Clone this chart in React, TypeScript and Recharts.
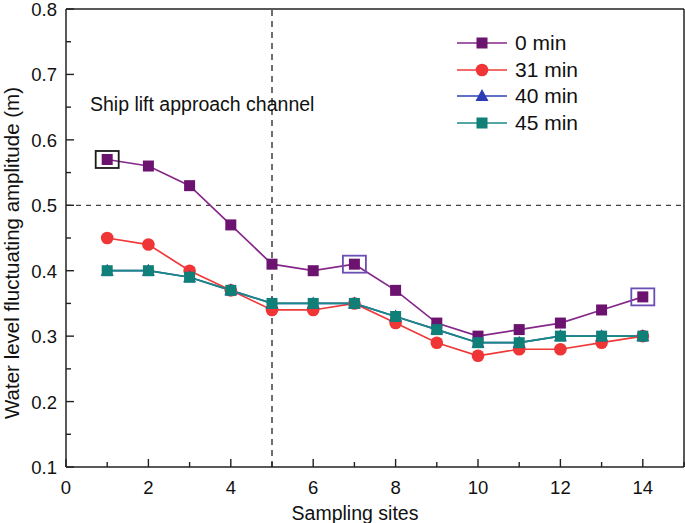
import * as React from "react";
import { LineChart, Line, XAxis, YAxis, ReferenceLine, ReferenceDot } from "recharts";

// sampling sites and amplitudes (m)
const sites = [1, 2, 3, 4, 5, 6, 7, 8, 9, 10, 11, 12, 13, 14];
const amp0 = [0.57, 0.56, 0.53, 0.47, 0.41, 0.4, 0.41, 0.37, 0.32, 0.3, 0.31, 0.32, 0.34, 0.36];
const amp31 = [0.45, 0.44, 0.4, 0.37, 0.34, 0.34, 0.35, 0.32, 0.29, 0.27, 0.28, 0.28, 0.29, 0.3];
const amp40 = [0.4, 0.4, 0.39, 0.37, 0.35, 0.35, 0.35, 0.33, 0.31, 0.29, 0.29, 0.3, 0.3, 0.3];
const amp45 = [0.4, 0.4, 0.39, 0.37, 0.35, 0.35, 0.35, 0.33, 0.31, 0.29, 0.29, 0.3, 0.3, 0.3];

const xTicks = [0, 1, 2, 3, 4, 5, 6, 7, 8, 9, 10, 11, 12, 13, 14, 15];
const yTicks = [0.1, 0.15, 0.2, 0.25, 0.3, 0.35, 0.4, 0.45, 0.5, 0.55, 0.6, 0.65, 0.7, 0.75, 0.8];

// highlighted points of the 0 min series
const boxSites = [1, 7, 14];
const boxColors = ["#1a1a1a", "#6a4db5", "#6a4db5"];

const FONT = '"Liberation Sans", Arial, sans-serif';
const AXIS = "#222";

type Shape = "square" | "circle" | "triangle";

const SERIES: Array<{ key: string; name: string; line: string; mark: string; shape: Shape }> = [
  { key: "t0", name: "0 min", line: "#85288a", mark: "#6c136f", shape: "square" },
  { key: "t31", name: "31 min", line: "#f03a3a", mark: "#ef3535", shape: "circle" },
  { key: "t40", name: "40 min", line: "#2e3fb3", mark: "#2a3db5", shape: "triangle" },
  { key: "t45", name: "45 min", line: "#178a84", mark: "#0f7f78", shape: "square" },
];

const data = sites.map((s, i) => ({
  site: s,
  t0: amp0[i],
  t31: amp31[i],
  t40: amp40[i],
  t45: amp45[i],
}));

function Marker({ cx, cy, color, shape }: { cx: number; cy: number; color: string; shape: Shape }) {
  if (shape === "circle") return <circle cx={cx} cy={cy} r={6.3} fill={color} />;
  if (shape === "triangle")
    return <path d={`M${cx},${cy - 7} L${cx - 6.5},${cy + 5} L${cx + 6.5},${cy + 5} Z`} fill={color} />;
  return <rect x={cx - 5.5} y={cy - 5.5} width={11} height={11} fill={color} />;
}

function XTick(p: any) {
  const v = p.payload.value;
  const major = v % 2 === 0;
  return (
    <g>
      <line x1={p.x} x2={p.x} y1={p.y} y2={p.y - (major ? 8 : 5)} stroke={AXIS} strokeWidth={1.4} />
      {major && (
        <text x={p.x} y={p.y + 27} textAnchor="middle" fontSize={18.5} fill="#111" fontFamily={FONT}>
          {v}
        </text>
      )}
    </g>
  );
}

function YTick(p: any) {
  const v = p.payload.value;
  const major = Math.round(v * 100) % 10 === 0;
  return (
    <g>
      <line x1={p.x} x2={p.x + (major ? 8 : 5)} y1={p.y} y2={p.y} stroke={AXIS} strokeWidth={1.4} />
      {major && (
        <text x={p.x - 9} y={p.y + 7} textAnchor="end" fontSize={18.5} fill="#111" fontFamily={FONT}>
          {v.toFixed(1)}
        </text>
      )}
    </g>
  );
}

function LegendBox() {
  return (
    <div style={{ position: "absolute", left: 455, top: 30, fontFamily: FONT, fontSize: 21, color: "#111" }}>
      {SERIES.map((s) => (
        <div key={s.key} style={{ display: "flex", alignItems: "center", height: 26.5 }}>
          <svg width={54} height={16} style={{ marginRight: 6 }}>
            <line x1={2} x2={52} y1={8} y2={8} stroke={s.line} strokeWidth={1.6} />
            <Marker cx={27} cy={8} color={s.mark} shape={s.shape} />
          </svg>
          <span>{s.name}</span>
        </div>
      ))}
    </div>
  );
}

export default function App() {
  return (
    <div style={{ position: "absolute", left: 0, top: 0, width: 685, height: 523, background: "#fff" }}>
      <LineChart width={685} height={523} data={data} margin={{ top: 9, right: 1, left: 0, bottom: 0 }}>
        <XAxis
          dataKey="site"
          type="number"
          domain={[0, 15]}
          ticks={xTicks}
          interval={0}
          height={56}
          tickSize={0}
          tickMargin={0}
          tickLine={false}
          axisLine={{ stroke: AXIS, strokeWidth: 1.5 }}
          tick={<XTick />}
        />
        <YAxis
          type="number"
          domain={[0.1, 0.8]}
          ticks={yTicks}
          interval={0}
          width={66}
          tickSize={0}
          tickMargin={0}
          tickLine={false}
          axisLine={{ stroke: AXIS, strokeWidth: 1.5 }}
          tick={<YTick />}
        />
        {/* frame */}
        <ReferenceLine y={0.8} stroke={AXIS} strokeWidth={1.5} />
        <ReferenceLine x={15} stroke={AXIS} strokeWidth={1.5} />
        {/* dashed guides */}
        <ReferenceLine x={5} stroke="#222" strokeWidth={1.3} strokeDasharray="6 5" />
        <ReferenceLine y={0.5} stroke="#444" strokeWidth={1.2} strokeDasharray="5 5" />
        {SERIES.map((s) => (
          <Line
            key={s.key}
            type="linear"
            dataKey={s.key}
            name={s.name}
            stroke={s.line}
            strokeWidth={1.7}
            isAnimationActive={false}
            activeDot={false}
            dot={(p: any) => <Marker key={`${s.key}-${p.index}`} cx={p.cx} cy={p.cy} color={s.mark} shape={s.shape} />}
          />
        ))}
        {boxSites.map((site, i) => (
          <ReferenceDot
            key={site}
            x={site}
            y={amp0[sites.indexOf(site)]}
            shape={(p: any) => (
              <rect x={p.cx - 11.5} y={p.cy - 8.5} width={23} height={17} fill="none" stroke={boxColors[i]} strokeWidth={1.8} />
            )}
          />
        ))}
      </LineChart>
      <LegendBox />
      <div
        style={{ position: "absolute", left: 90, top: 93, fontFamily: FONT, fontSize: 19.5, color: "#111", whiteSpace: "nowrap" }}
      >
        Ship lift approach channel
      </div>
      <div
        style={{
          position: "absolute",
          left: 355,
          top: 513,
          transform: "translate(-50%, -50%)",
          fontFamily: FONT,
          fontSize: 19.5,
          color: "#111",
          whiteSpace: "nowrap",
        }}
      >
        Sampling sites
      </div>
      <div
        style={{
          position: "absolute",
          left: 12,
          top: 253,
          transform: "translate(-50%, -50%) rotate(-90deg)",
          fontFamily: FONT,
          fontSize: 20.5,
          color: "#111",
          whiteSpace: "nowrap",
        }}
      >
        Water level fluctuating amplitude (m)
      </div>
    </div>
  );
}
